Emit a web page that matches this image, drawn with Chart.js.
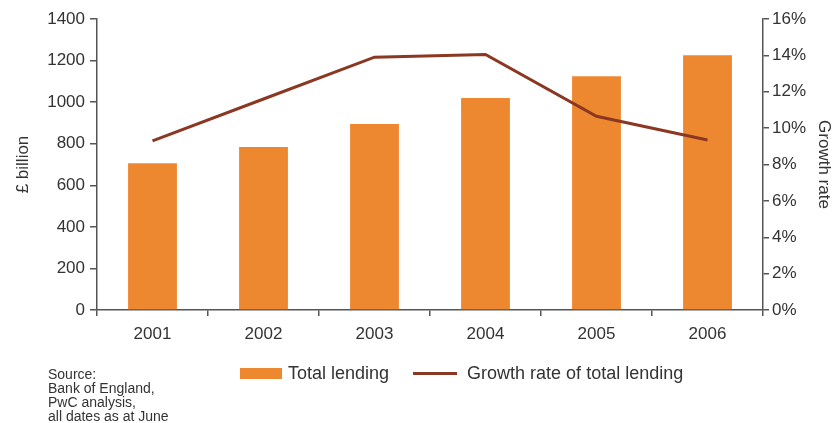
<!DOCTYPE html>
<html>
<head>
<meta charset="utf-8">
<script src="https://cdn.jsdelivr.net/npm/chart.js@4/dist/chart.umd.min.js"></script>
<style>
  html, body { margin: 0; padding: 0; background: #fff; overflow: hidden; }
  #wrap { position: relative; width: 837px; height: 423px; }
  #chart { position: absolute; left: 0; top: 0; }
  .note {
    position: absolute; left: 48px; top: 367px;
    font: 14px "Liberation Sans", Arial, sans-serif; line-height: 14px; color: #333;
  }
  #legend {
    position: absolute; left: 240px; top: 362px; height: 22px;
    display: flex; align-items: center;
    font: 18px "Liberation Sans", Arial, sans-serif; color: #333;
  }
  #legend .item { display: flex; align-items: center; margin-right: 24px; }
  #legend .sw { margin-right: 6px; }
</style>
</head>
<body>
<div id="wrap">
  <canvas id="chart" width="837" height="423"></canvas>
  <div id="legend"></div>
  <div class="note">Source:<br>Bank of England,<br>PwC analysis,<br>all dates as at June</div>
</div>
<script>
/* =========================
   DATI
========================= */
const years = ["2001", "2002", "2003", "2004", "2005", "2006"];
const totalLending = [706, 784, 895, 1020, 1125, 1226];      // £ billion
const growthRate = [9.3, 11.6, 13.9, 14.05, 10.65, 9.35];    // %

const ORANGE = "#ee8830";
const BROWN = "#8b3823";
const AXIS = "#555555";
const TEXT = "#333333";
const FONT = { family: "'Liberation Sans', Arial, sans-serif", size: 17 };

/* =========================
   GRAFICO
========================= */
const chart = new Chart(document.getElementById("chart"), {
  data: {
    labels: years,
    datasets: [
      {
        type: "line",
        label: "Growth rate of total lending",
        data: growthRate,
        yAxisID: "yRate",
        borderColor: BROWN,
        borderWidth: 3,
        pointRadius: 0,
        tension: 0,
        order: 0
      },
      {
        type: "bar",
        label: "Total lending",
        data: totalLending,
        yAxisID: "yLending",
        backgroundColor: ORANGE,
        categoryPercentage: 1,
        barPercentage: 0.44,
        order: 1
      }
    ]
  },
  options: {
    responsive: false,
    animation: false,
    layout: { padding: { top: 19, bottom: 73, left: 0, right: 0 } },
    plugins: {
      legend: { display: false },
      tooltip: { enabled: false }
    },
    scales: {
      x: {
        offset: true,
        grid: { drawOnChartArea: false, tickLength: 6, color: AXIS, lineWidth: 1.5, offset: true },
        border: { color: AXIS, width: 1.5 },
        ticks: { color: TEXT, font: FONT, padding: 8, maxRotation: 0 },
        afterFit: s => { s.height = 40; }
      },
      yLending: {
        position: "left",
        min: 0,
        max: 1400,
        ticks: { stepSize: 200, color: TEXT, font: FONT, padding: 5, callback: v => String(v) },
        grid: { drawOnChartArea: false, tickLength: 7, color: AXIS, lineWidth: 1.5 },
        border: { color: AXIS, width: 1.5 },
        title: { display: true, text: "£ billion", color: TEXT, font: FONT, padding: { top: 13, bottom: 0 } },
        afterFit: s => { s.width = 97; }
      },
      yRate: {
        position: "right",
        min: 0,
        max: 16,
        ticks: { stepSize: 2, color: TEXT, font: FONT, padding: 3, callback: v => v + "%" },
        grid: { drawOnChartArea: false, tickLength: 6, color: AXIS, lineWidth: 1.5 },
        border: { color: AXIS, width: 1.5 },
        title: { display: true, text: "Growth rate", color: TEXT, font: FONT, padding: { top: 3, bottom: 0 } },
        afterFit: s => { s.width = 74; }
      }
    }
  }
});

/* =========================
   LEGENDA
========================= */
const legend = document.getElementById("legend");
[chart.data.datasets[1], chart.data.datasets[0]].forEach(ds => {
  const item = document.createElement("div");
  item.className = "item";
  const sw = document.createElement("span");
  sw.className = "sw";
  if (ds.type === "bar") {
    sw.style.cssText = `display:inline-block;width:42px;height:11px;background:${ds.backgroundColor}`;
  } else {
    sw.style.cssText = `display:inline-block;width:44px;height:3px;background:${ds.borderColor};margin-right:10px`;
  }
  item.appendChild(sw);
  item.appendChild(document.createTextNode(ds.label));
  legend.appendChild(item);
});
</script>
</body>
</html>
